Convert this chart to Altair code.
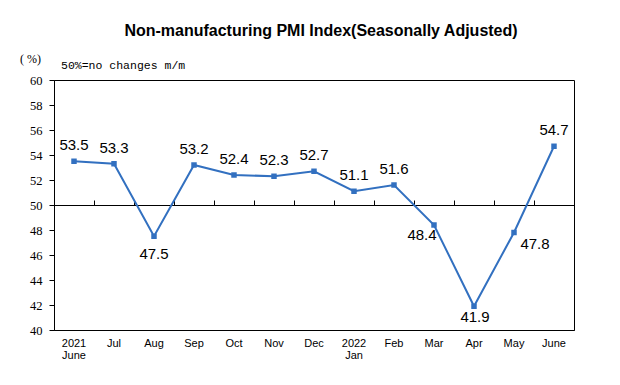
import altair as alt
import pandas as pd

months = ["2021|June", "Jul", "Aug", "Sep", "Oct", "Nov", "Dec",
          "2022|Jan", "Feb", "Mar", "Apr", "May", "June"]
pmi = [53.5, 53.3, 47.5, 53.2, 52.4, 52.3, 52.7, 51.1, 51.6, 48.4, 41.9, 47.8, 54.7]
y_ticks = list(range(40, 61, 2))

df = pd.DataFrame({"month": months, "pmi": pmi})
one = pd.DataFrame({"k": [0]})

LINE = "#3270c0"
BLACK = "#000000"

xscale = alt.Scale(type="band", domain=months, paddingInner=0, paddingOuter=0)
yscale = alt.Scale(domain=[40, 60], nice=False, zero=False)

base = alt.Chart(df)

x_bottom = alt.X("month:N", sort=months, scale=xscale, title=None,
                 axis=alt.Axis(orient="bottom", ticks=False, labelAngle=0,
                               labelExpr="split(datum.value, '|')",
                               labelFont="Liberation Sans", labelFontSize=11,
                               labelColor=BLACK, labelPadding=7, labelOverlap=False,
                               domainColor=BLACK, domainWidth=1, labelLineHeight=12))
y_axis = alt.Y("pmi:Q", scale=yscale, title=None,
               axis=alt.Axis(values=y_ticks, grid=False, tickSize=5, tickColor=BLACK,
                             domainColor=BLACK, labelFont="Liberation Serif",
                             labelOverlap=False, labelFontSize=12.5, labelColor=BLACK,
                             labelPadding=7))

line = base.mark_line(color=LINE, strokeWidth=2).encode(x=x_bottom, y=y_axis)

# top axis used as the 50% reference line with ticks at month boundaries
x_top = alt.X("month:N", sort=months, scale=xscale, title=None,
              axis=alt.Axis(orient="top", offset=-125, labels=False, tickBand="extent",
                            tickSize=5, tickColor=BLACK, domainColor=BLACK, domainWidth=1))
pts = base.mark_square(color=LINE, size=30, opacity=1).encode(x=x_top, y=y_axis)

def labels(sel, dx, dy):
    return base.transform_filter(
        alt.FieldOneOfPredicate(field="month", oneOf=sel)
    ).mark_text(font="Liberation Sans", fontSize=15, color=BLACK, dx=dx, dy=dy,
                baseline="middle").encode(
        x=alt.X("month:N", sort=months, scale=xscale, axis=None),
        y=y_axis,
        text=alt.Text("pmi:Q", format=".1f"))

special = ["Aug", "Mar", "Apr", "May"]
above = [m for m in months if m not in special]

t_above = labels(above, 0, -16)
t_aug = labels(["Aug"], 0, 18)
t_apr = labels(["Apr"], 1, 11)
t_mar = labels(["Mar"], -12, 10)
t_may = labels(["May"], 21, 11)

note1 = alt.Chart(one).mark_text(text="( %)", font="Liberation Serif", fontSize=12,
                                  align="left", baseline="middle", color=BLACK).encode(
    x=alt.value(-34), y=alt.value(-21))
note2 = alt.Chart(one).mark_text(text="50%=no changes m/m", font="Liberation Mono", fontSize=11.5,
                                  align="left", baseline="middle", color=BLACK).encode(
    x=alt.value(7), y=alt.value(-14))

chart = alt.layer(line, pts, t_above, t_aug, t_apr, t_mar, t_may, note1, note2).resolve_axis(
    x="independent"
).properties(
    width=520, height=250,
    padding={"left": 46, "top": 72, "right": 37, "bottom": 40},
    autosize=alt.AutoSizeParams(type="none"),
    title=alt.TitleParams("Non-manufacturing PMI Index(Seasonally Adjusted)",
                          font="Liberation Sans", fontSize=16, fontWeight="bold",
                          color=BLACK, anchor="middle", offset=14, dx=7)
).configure_view(stroke=BLACK, strokeWidth=1)

chart.save("out.html", embed_options={"renderer": "svg", "actions": False})
